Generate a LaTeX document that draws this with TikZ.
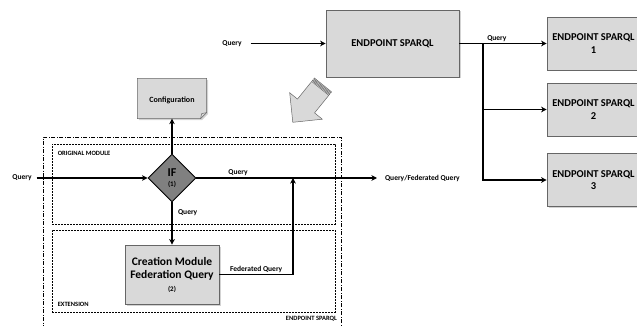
\documentclass[tikz,border=0pt]{standalone}
\usepackage{fontspec}
\setmainfont{Carlito}
\usetikzlibrary{shapes.geometric,shadows,positioning,calc,arrows.meta}

\begin{document}
\begin{tikzpicture}[x=1pt, y=-1pt, >={Stealth[length=5.5pt, width=5.5pt, inset=1.5pt]}, line width=1.2pt,
    graybox/.style={rectangle, draw=gray!80!black, line width=0.6pt, fill=gray!30, align=center, font=\bfseries,
        drop shadow={shadow xshift=1.5pt, shadow yshift=-1.5pt, opacity=.35}},
    lbl/.style={font=\bfseries\fontsize{7.5}{9}\selectfont, inner sep=1.5pt},
    caplbl/.style={font=\bfseries\fontsize{6.5}{8}\selectfont, inner sep=1.5pt},
    modbox/.style={rectangle, draw, line width=0.7pt, dash pattern=on 2pt off 1pt, inner sep=0pt}]
    \clip (0,0) rectangle (637,326);

    % main endpoint and the remote endpoints
    \node[graybox, minimum width=133, minimum height=67, font=\bfseries\fontsize{10.5}{12}\selectfont] (hub) at (392.5,43.5) {ENDPOINT SPARQL};
    \node[lbl] (qtop) at (232,43.5) {Query};
    \draw[->] ([xshift=7pt]qtop.east) -- (hub.west);

    \node[graybox, minimum width=93, minimum height=53, font=\bfseries\fontsize{10.5}{12.5}\selectfont] (ep1) at (593.5,43.5) {ENDPOINT SPARQL\\1};
    \node[graybox, minimum width=93, minimum height=53, font=\bfseries\fontsize{10.5}{12.5}\selectfont] (ep2) at (593.5,109.5) {ENDPOINT SPARQL\\2};
    \node[graybox, minimum width=93, minimum height=53, font=\bfseries\fontsize{10.5}{12.5}\selectfont] (ep3) at (593.5,180) {ENDPOINT SPARQL\\3};
    \coordinate (fork) at (483,43.5);
    \draw[->] (hub.east) -- node[lbl, above, pos=0.43] {Query} (ep1.west);
    \draw[->] (fork) |- (ep2.west);
    \draw[->] (fork) |- (ep3.west);

    % zoom arrow (striped block arrow)
    \begin{scope}[shift={(323,85)}, rotate=231, fill=gray!30, draw=gray!80!black, line width=0.5pt]
        \filldraw (0,-11) rectangle (1.2,11);
        \filldraw (2.2,-11) rectangle (3.4,11);
        \filldraw (4.4,-11) -- (27,-11) -- (27,-21) -- (48,0) -- (27,21) -- (27,11) -- (4.4,11) -- cycle;
    \end{scope}

    % module frames
    \node[rectangle, draw, line width=0.7pt, dash pattern=on 4pt off 1.5pt on 1pt off 1.5pt, minimum width=298, minimum height=200, inner sep=0pt] (outer) at (192,237) {};
    \node[caplbl, anchor=east] (outerlbl) at (339,319) {ENDPOINT SPARQL};
    \node[modbox, minimum width=283, minimum height=80] (orig) at (193.5,184) {};
    \node[caplbl, anchor=north west] (origlbl) at ([xshift=4pt, yshift=-5pt]orig.north west) {ORIGINAL MODULE};
    \node[modbox, minimum width=283, minimum height=82] (ext) at (193.5,271) {};
    \node[caplbl, anchor=south west] (extlbl) at ([xshift=4pt, yshift=4pt]ext.south west) {EXTENSION};

    % configuration note
    \node[minimum width=68, minimum height=39, inner sep=0pt] (config) at (172,98.5) {};
    \filldraw[fill=gray!30, draw=gray!80!black, line width=0.6pt, drop shadow={shadow xshift=1.5pt, shadow yshift=-1.5pt, opacity=.35}]
        (config.north west) -- (config.north east) -- ([yshift=6pt]config.south east) -- ([xshift=-6pt]config.south east) -- (config.south west) -- cycle;
    \draw[draw=gray!80!black, line width=0.5pt] ([yshift=6pt]config.south east) -- ([xshift=-5pt, yshift=5pt]config.south east) -- ([xshift=-6pt]config.south east);
    \node[font=\bfseries\fontsize{8}{10}\selectfont] (configtxt) at ([yshift=-2pt]config.center) {Configuration};

    % decision and federation module
    \node[diamond, draw, fill=gray, line width=0.9pt, minimum width=48, minimum height=48, inner sep=1pt, align=center,
        font=\bfseries\fontsize{12}{11}\selectfont] (if) at (172,178) {IF\\[-1pt]{\fontsize{7}{8}\selectfont(1)}};
    \node[graybox, minimum width=94, minimum height=59, font=\bfseries\fontsize{11.5}{13}\selectfont] (create) at (172,274.5)
        {\rule{0pt}{6pt}Creation Module\\Federation Query\\{\fontsize{7}{12}\selectfont(2)}};

    \node[lbl] (qin) at (22,178) {Query};
    \draw[->] ([xshift=3pt]qin.east) -- (if.west);
    \draw[->] (if.north) -- (config.south);

    \node[lbl, anchor=west] (qout) at (383,178) {Query/Federated Query};
    \draw[->] (if.east) -- node[lbl, above, pos=0.23] {Query} ([xshift=-6pt]qout.west);
    \draw[->] (if.south) -- node[lbl, right, pos=0.25, xshift=4pt] {Query} (create.north);

    \coordinate (join) at (293,178);
    \draw[->] (create.east) -| node[lbl, above, pos=0.25] {Federated Query} (join);
\end{tikzpicture}
\end{document}
